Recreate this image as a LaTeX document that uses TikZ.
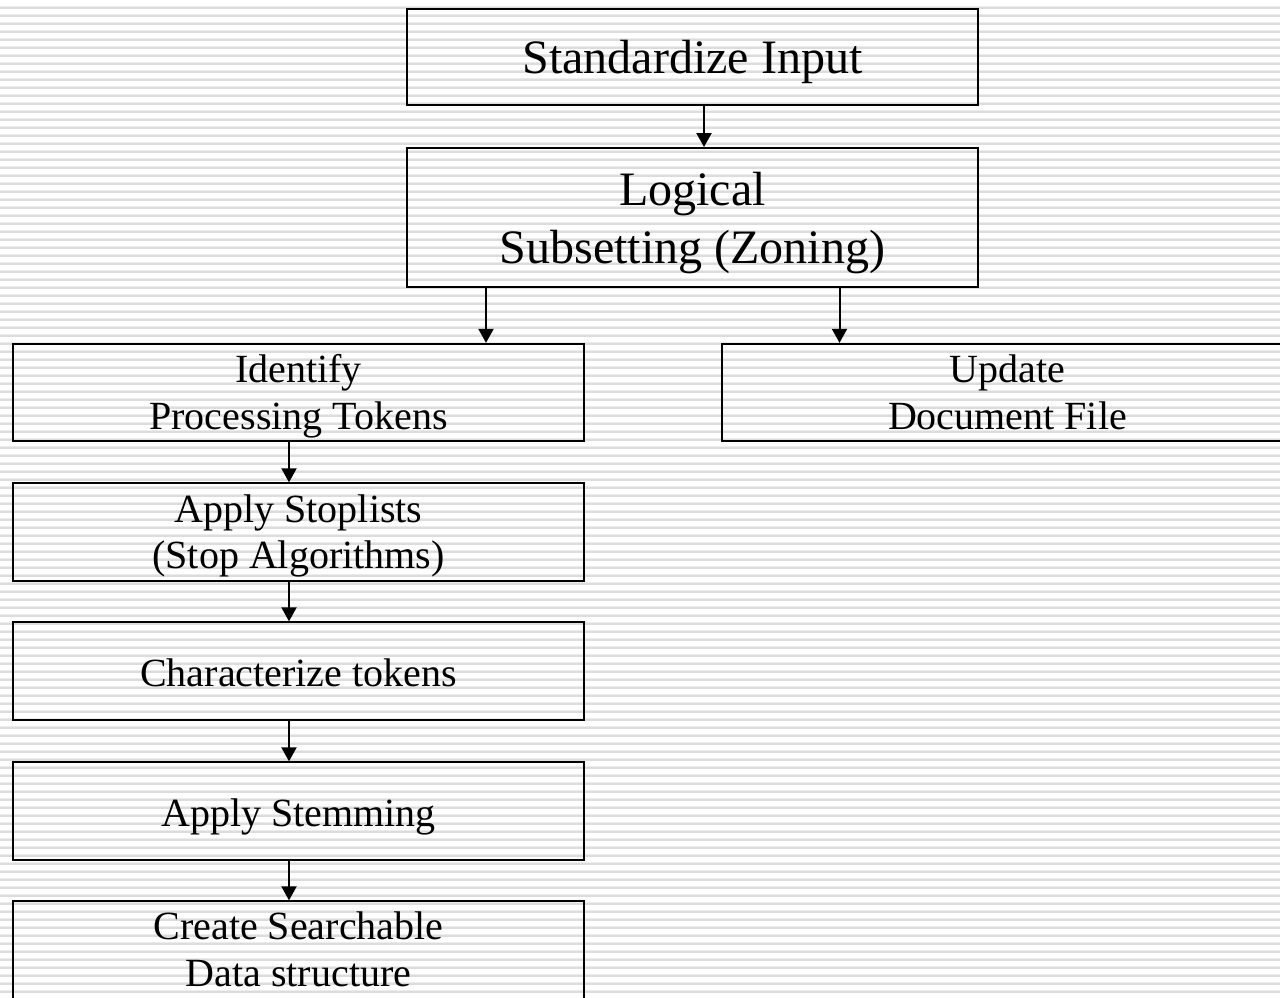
\documentclass[tikz,border=0pt]{standalone}
\usepackage{fontspec}
\setmainfont{Liberation Serif}
\usetikzlibrary{arrows.meta}
\definecolor{stripelight}{RGB}{236,236,236}
\definecolor{stripedark}{RGB}{220,220,220}
\begin{document}
\begin{tikzpicture}[x=0.75pt,y=-0.75pt,
  box/.style={draw=black,line width=1.5pt,minimum width=428.25pt,minimum height=73pt,inner sep=0pt},
  bigtext/.style={anchor=base,inner sep=0pt,font=\fontsize{36}{43.5}\selectfont},
  smalltext/.style={anchor=base,inner sep=0pt,font=\fontsize{30}{35.25}\selectfont},
  arr/.style={line width=1.5pt,-{Triangle[width=11.25pt,length=10.5pt]}}]
\useasboundingbox (0,0) rectangle (1280,997);
\clip (0,0) rectangle (1280,997);
\fill[white] (0,0) rectangle (1280,997);
\foreach \k in {0,...,124} {
  \fill[stripelight] (0,{6+8*\k}) rectangle (1280,{7.2+8*\k});
  \fill[stripedark] (0,{7.2+8*\k}) rectangle (1280,{8.8+8*\k});
}
% boxes
\node[box,minimum height=72pt] (std) at (692.5,57) {};
\node[box,minimum height=104.25pt] (log) at (692.5,217.5) {};
\node[box] (ident) at (298.5,392.5) {};
\node[box] (upd) at (1007.5,392.5) {};
\node[box] (stop) at (298.5,532) {};
\node[box] (char) at (298.5,671) {};
\node[box] (stem) at (298.5,811) {};
\node[box] (create) at (298.5,950) {};
% texts
\node[bigtext] (stdt) at (692.5,73.3) {Standardize Input};
\node[bigtext] (logt1) at (692.5,205.7) {Logical};
\node[bigtext] (logt2) at (692.5,263.3) {Subsetting (Zoning)};
\node[smalltext] (identt1) at (298.5,382.3) {Identify};
\node[smalltext] (identt2) at (298.5,429) {Processing Tokens};
\node[smalltext] (updt1) at (1007.5,382.3) {Update};
\node[smalltext] (updt2) at (1007.5,429) {Document File};
\node[smalltext] (stopt1) at (298.5,522) {Apply Stoplists};
\node[smalltext] (stopt2) at (298.5,568.5) {(Stop Algorithms)};
\node[smalltext] (chart) at (298.5,686.7) {Characterize tokens};
\node[smalltext] (stemt) at (298.5,826.5) {Apply Stemming};
\node[smalltext] (createt1) at (298.5,939.5) {Create Searchable};
\node[smalltext] (createt2) at (298.5,986) {Data structure};
% arrows
\draw[arr] ([xshift=8.625pt]std.south) -- ([xshift=8.625pt]std.south |- log.north);
\coordinate (la) at ([xshift=-154.875pt]log.south);
\coordinate (ra) at ([xshift=110.25pt]log.south);
\draw[arr] (la) -- (la |- ident.north);
\draw[arr] (ra) -- (ra |- upd.north);
\draw[arr] ([xshift=-7.125pt]ident.south) -- ([xshift=-7.125pt]stop.north);
\draw[arr] ([xshift=-7.125pt]stop.south) -- ([xshift=-7.125pt]char.north);
\draw[arr] ([xshift=-7.125pt]char.south) -- ([xshift=-7.125pt]stem.north);
\draw[arr] ([xshift=-7.125pt]stem.south) -- ([xshift=-7.125pt]create.north);
\end{tikzpicture}
\end{document}
